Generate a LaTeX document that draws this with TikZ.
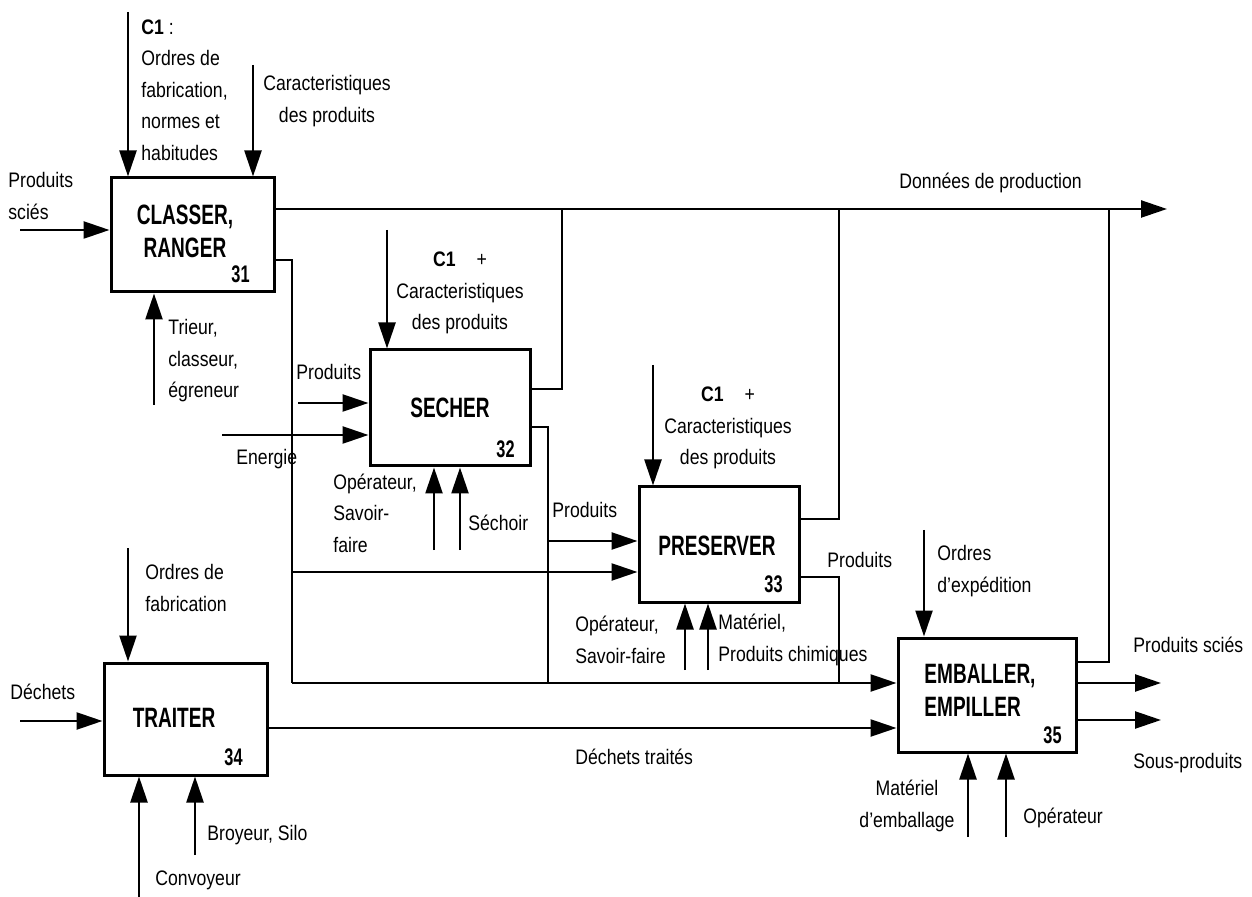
\documentclass[tikz,border=0pt]{standalone}
\usepackage{fontspec}
\setmainfont{Liberation Sans}[FakeStretch=0.84]
\newfontfamily\boxfont{Liberation Sans}[FakeStretch=0.68]
\usetikzlibrary{arrows.meta,positioning,calc}

\begin{document}
\begin{tikzpicture}[
  x=0.5pt,
  y=-0.5pt,
  act/.style={draw, line width=1.5pt, inner sep=0pt},
  title/.style={font=\boxfont\bfseries\fontsize{14}{16.5}\selectfont, align=center, inner sep=0pt},
  num/.style={font=\boxfont\bfseries\fontsize{12}{14}\selectfont, anchor=base east, inner sep=0pt},
  lbl/.style={font=\fontsize{10.5}{15.75}\selectfont, inner sep=0pt},
  flow/.style={line width=1.2pt, -{Triangle[length=13pt,width=8.5pt]}},
  link/.style={line width=1.1pt},
]
\useasboundingbox (0,0) rectangle (1252,897);

% Activity boxes
\node[act, minimum width=81.5pt, minimum height=57pt] (a31) at (192.5,235) {};
\node[act, minimum width=80pt, minimum height=58pt] (a32) at (450,408) {};
\node[act, minimum width=80pt, minimum height=57.5pt] (a33) at (719,544.5) {};
\node[act, minimum width=81.5pt, minimum height=56pt] (a34) at (185.5,719) {};
\node[act, minimum width=89pt, minimum height=57pt] (a35) at (987,695) {};

% Box titles and numbers
\node[title] (t31) at (185,231) {CLASSER,\\RANGER};
\node[title] (t32) at (450,408) {SECHER};
\node[title] (t33) at (717,546) {PRESERVER};
\node[title] (t34) at (174,718) {TRAITER};
\node[title, align=left] (t35) at (980,690) {EMBALLER,\\EMPILLER};
\node[num] (n31) at (250,283) {31};
\node[num] (n32) at (515,458) {32};
\node[num] (n33) at (783,592) {33};
\node[num] (n34) at (243,765) {34};
\node[num] (n35) at (1062,743) {35};

% Free ends
\coordinate (i31) at (20,230);
\coordinate (i32a) at (298,403);
\coordinate (i32b) at (222,435);
\coordinate (i34) at (20,721);
\coordinate (c31a) at (128,12);
\coordinate (c31b) at (253,65);
\coordinate (c32) at (387,230);
\coordinate (c33) at (653,365);
\coordinate (c34) at (128,548);
\coordinate (c35) at (924,530);
\coordinate (m31) at (154,405);
\coordinate (m32a) at (434,550);
\coordinate (m32b) at (460,550);
\coordinate (m33a) at (685,670);
\coordinate (m33b) at (708,670);
\coordinate (m34a) at (139,897);
\coordinate (m34b) at (195,855);
\coordinate (m35a) at (968,837);
\coordinate (m35b) at (1006,837);
\coordinate (dp) at (1167,209);
\coordinate (o35a) at (1161,683);
\coordinate (o35b) at (1161,720);

% Junctions
\coordinate (j1) at (292,260);
\coordinate (j2) at (292,572);
\coordinate (j3) at (292,683);
\coordinate (k1) at (562,389);
\coordinate (k2) at (548,427);
\coordinate (k3) at (548,541);
\coordinate (k4) at (548,683);
\coordinate (p1) at (839,519);
\coordinate (p2) at (839,577);
\coordinate (p3) at (839,683);
\coordinate (e1) at (1109,662);

% Inputs, controls, mechanisms
\foreach \a/\b in {i31/a31,i32a/a32,i32b/a32,i34/a34}
  \draw[flow] (\a) -- (\b.west |- \a);
\foreach \a/\b in {c31a/a31,c31b/a31,c32/a32,c33/a33,c34/a34,c35/a35}
  \draw[flow] (\a) -- (\a |- \b.north);
\foreach \a/\b in {m31/a31,m32a/a32,m32b/a32,m33a/a33,m33b/a33,m34a/a34,m34b/a34,m35a/a35,m35b/a35}
  \draw[flow] (\a) -- (\a |- \b.south);

% Outputs
\draw[flow] (a31.east |- dp) -- (dp);
\draw[link] (a32.east |- k1) -- (k1) -- (k1 |- dp);
\draw[link] (a33.east |- p1) -- (p1) -- (p1 |- dp);
\draw[link] (a35.east |- e1) -- (e1) -- (e1 |- dp);
\draw[link] (a31.east |- j1) -- (j1) -- (j3);
\draw[flow] (j3) -- (a35.west |- j3);
\draw[flow] (j2) -- (a33.west |- j2);
\draw[link] (a32.east |- k2) -- (k2) -- (k4);
\draw[flow] (k3) -- (a33.west |- k3);
\draw[link] (a33.east |- p2) -- (p2) -- (p3);
\draw[flow] (a34.east |- 0,728) -- (a35.west |- 0,728);
\draw[flow] (a35.east |- o35a) -- (o35a);
\draw[flow] (a35.east |- o35b) -- (o35b);

% Labels
\node[lbl, anchor=west, align=left] (l1) at (8,196) {Produits\\sciés};
\node[lbl, anchor=west, align=left] (l2) at (141,90) {\textbf{C1} :\\Ordres de\\fabrication,\\normes et\\habitudes};
\node[lbl, align=center] (l3) at (327,101) {Caracteristiques\\des produits};
\node[lbl, anchor=west, align=left] (l4) at (168,361) {Trieur,\\classeur,\\égreneur};
\node[lbl, anchor=west] (l5) at (296,372) {Produits};
\node[lbl, anchor=west] (l6) at (236,459) {Energie};
\node[lbl, align=center] (l7) at (460,293) {\textbf{C1}\quad+\\Caracteristiques\\des produits};
\node[lbl, anchor=west, align=left] (l8) at (333,513) {Opérateur,\\Savoir-\\faire};
\node[lbl, anchor=west] (l9) at (468,523) {Séchoir};
\node[lbl, anchor=west] (l10) at (552,510) {Produits};
\node[lbl, align=center] (l11) at (728,428) {\textbf{C1}\quad+\\Caracteristiques\\des produits};
\node[lbl, anchor=west, align=left] (l12) at (575,640) {Opérateur,\\Savoir-faire};
\node[lbl, anchor=west, align=left] (l13) at (718,640) {Matériel,\\Produits chimiques};
\node[lbl, anchor=west] (l14) at (827,560) {Produits};
\node[lbl, anchor=west, align=left] (l15) at (937,571) {Ordres\\d'expédition};
\node[lbl, anchor=west] (l16) at (899,183) {Données de production};
\node[lbl, anchor=west] (l17) at (1133,645) {Produits sciés};
\node[lbl, anchor=west] (l18) at (1133,763) {Sous-produits};
\node[lbl, align=center] (l19) at (907,806) {Matériel\\d'emballage};
\node[lbl, anchor=west] (l20) at (1023,818) {Opérateur};
\node[lbl, anchor=west, align=left] (l21) at (145,588) {Ordres de\\fabrication};
\node[lbl, anchor=west] (l22) at (10,692) {Déchets};
\node[lbl, anchor=west] (l23) at (575,757) {Déchets traités};
\node[lbl, anchor=west] (l24) at (207,835) {Broyeur, Silo};
\node[lbl, anchor=west] (l25) at (155,880) {Convoyeur};

\end{tikzpicture}
\end{document}
